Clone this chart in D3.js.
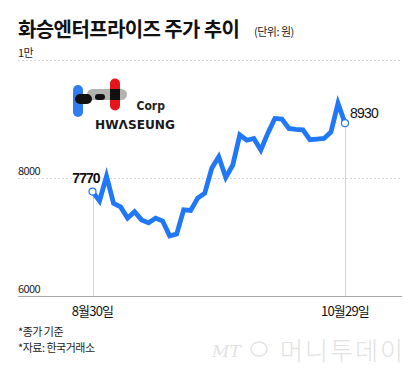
<!DOCTYPE html>
<html>
<head>
<meta charset="utf-8">
<script src="https://cdn.jsdelivr.net/npm/d3@7"></script>
<style>
  body { margin: 0; background: #fff; }
  svg text { font-family: "Noto Sans CJK KR", "Noto Sans", sans-serif; }
</style>
</head>
<body>
<div id="vis"></div>
<script>
// 화승엔터프라이즈 종가 (원), 8/30 ~ 10/29
const prices = [7770, 7610, 8030, 7570, 7510, 7320, 7430, 7290, 7240, 7320,
  7270, 7020, 7050, 7460, 7450, 7660, 7740, 8165, 8360, 8010,
  8220, 8730, 8640, 8670, 8475, 8760, 9010, 9000, 8840, 8825,
  8815, 8650, 8660, 8670, 8780, 9265, 8930]
const xLabels = ["8월30일", "10월29일"]
const yTicks = [6000, 8000, 10000]
const yTickLabels = ["6000", "8000", "1만"]
const notes = ["*종가 기준", "*자료: 한국거래소"]

const width = 420
const height = 376
const blue = "#2078f6"

const svg = d3.select("#vis")
  .append("svg")
  .attr("width", width)
  .attr("height", height)

const x = d3.scaleLinear()
  .domain([0, prices.length - 1])
  .range([92.5, 345])

const y = d3.scaleLinear()
  .domain([6000, 10000])
  .range([296, 60])

// title
svg.append("text")
  .attr("x", 18)
  .attr("y", 37)
  .attr("textLength", 222)
  .attr("lengthAdjust", "spacing")
  .style("font-size", "20px")
  .style("font-weight", "bold")
  .attr("fill", "#111")
  .text("화승엔터프라이즈 주가 추이")

svg.append("text")
  .attr("x", 254)
  .attr("y", 36)
  .style("font-size", "11px")
  .style("letter-spacing", "-0.5px")
  .attr("fill", "#222")
  .text("(단위: 원)")

// grid
svg.selectAll(".grid")
  .data(yTicks.filter(d => d > 6000))
  .enter()
  .append("line")
    .attr("x1", 18)
    .attr("x2", 402)
    .attr("y1", d => y(d) + 0.5)
    .attr("y2", d => y(d) + 0.5)
    .attr("stroke", "#d6d6d6")
    .style("stroke-dasharray", "2,2")

svg.append("line")
  .attr("x1", 18)
  .attr("x2", 402)
  .attr("y1", y(6000) + 0.5)
  .attr("y2", y(6000) + 0.5)
  .attr("stroke", "#a8a8a8")

svg.selectAll(".ylab")
  .data(yTicks)
  .enter()
  .append("text")
    .attr("x", 18)
    .attr("y", d => y(d) - 3)
    .style("font-size", "11px")
    .style("letter-spacing", "-0.6px")
    .attr("fill", "#222")
    .text((d, i) => yTickLabels[i])

// guides from first / last point
const ends = [0, prices.length - 1]
svg.selectAll(".guide")
  .data(ends)
  .enter()
  .append("line")
    .attr("x1", d => Math.round(x(d)) + 0.5)
    .attr("x2", d => Math.round(x(d)) + 0.5)
    .attr("y1", d => y(prices[d]))
    .attr("y2", y(6000))
    .attr("stroke", "#d2d2d2")

// logo
const logo = svg.append("g")
logo.append("rect").attr("x", 87).attr("y", 89).attr("width", 40).attr("height", 11).attr("rx", 5.5).attr("fill", "#b4b4ae")
logo.append("rect").attr("x", 73).attr("y", 85).attr("width", 10).attr("height", 32).attr("rx", 5).attr("fill", "#2f7df0")
logo.append("rect").attr("x", 75).attr("y", 94).attr("width", 17).attr("height", 10).attr("rx", 5).attr("fill", "#111")
logo.append("rect").attr("x", 95).attr("y", 94).attr("width", 10).attr("height", 6).attr("rx", 3).attr("fill", "#111")
logo.append("rect").attr("x", 110).attr("y", 78.5).attr("width", 10).attr("height", 32).attr("rx", 5).attr("fill", "#e8141c")
logo.append("rect").attr("x", 110).attr("y", 89).attr("width", 10).attr("height", 11).attr("fill", "#111")
logo.append("text")
  .attr("x", 136.5)
  .attr("y", 110)
  .style("font-family", "'DejaVu Sans Condensed', 'DejaVu Sans'")
  .style("font-size", "12px")
  .style("font-weight", "bold")
  .attr("fill", "#222")
  .text("Corp")
logo.append("text")
  .attr("x", 95)
  .attr("y", 129)
  .attr("textLength", 80)
  .attr("lengthAdjust", "spacingAndGlyphs")
  .style("font-family", "'DejaVu Sans Condensed', 'DejaVu Sans'")
  .style("font-size", "12.5px")
  .style("font-weight", "bold")
  .attr("fill", "#1a1a1a")
  .text("HWΛSEUNG")

// price line
const line = d3.line()
  .x((d, i) => x(i))
  .y(d => y(d))

svg.append("path")
  .datum(prices)
  .attr("d", line)
  .attr("fill", "none")
  .attr("stroke", blue)
  .attr("stroke-width", 4.8)
  .attr("stroke-linejoin", "miter")

svg.selectAll(".endpt")
  .data(ends)
  .enter()
  .append("circle")
    .attr("cx", d => x(d))
    .attr("cy", d => y(prices[d]))
    .attr("r", 3.5)
    .attr("fill", "#fff")
    .attr("stroke", blue)
    .attr("stroke-width", 1.2)

svg.append("text")
  .attr("x", x(0) + 7)
  .attr("y", 183)
  .attr("text-anchor", "end")
  .style("font-family", "'Liberation Sans', Arial, sans-serif")
  .style("font-size", "14px")
  .style("font-weight", "bold")
  .style("letter-spacing", "-1px")
  .attr("fill", "#111")
  .text(d3.format("d")(prices[0]))

svg.append("text")
  .attr("x", x(prices.length - 1) + 5)
  .attr("y", 118)
  .style("font-family", "'Liberation Sans', Arial, sans-serif")
  .style("font-size", "14px")
  .style("letter-spacing", "-0.8px")
  .attr("fill", "#111")
  .text(d3.format("d")(prices[prices.length - 1]))

// x labels
svg.selectAll(".xlab")
  .data(ends)
  .enter()
  .append("text")
    .attr("x", d => x(d))
    .attr("y", 316)
    .attr("text-anchor", "middle")
    .style("font-size", "13px")
    .style("letter-spacing", "-0.8px")
    .attr("fill", "#111")
    .text((d, i) => xLabels[i])

// notes
svg.selectAll(".note")
  .data(notes)
  .enter()
  .append("text")
    .attr("x", 18)
    .attr("y", (d, i) => 336 + i * 16)
    .style("font-size", "11px")
    .style("letter-spacing", "-0.5px")
    .attr("fill", "#222")
    .text(d => d)

// watermark
const wm = svg.append("g").attr("fill", "#e2e2e2")
wm.append("text")
  .attr("x", 212)
  .attr("y", 357)
  .style("font-family", "'DejaVu Serif', serif")
  .style("font-style", "italic")
  .style("font-size", "17px")
  .text("MT")
wm.append("ellipse")
  .attr("cx", 259)
  .attr("cy", 349)
  .attr("rx", 8)
  .attr("ry", 7)
  .attr("fill", "none")
  .attr("stroke", "#e2e2e2")
  .attr("stroke-width", 1.5)
wm.append("text")
  .attr("x", 280)
  .attr("y", 360)
  .attr("textLength", 123)
  .style("font-size", "25px")
  .style("font-weight", "300")
  .text("머니투데이")
</script>
</body>
</html>
